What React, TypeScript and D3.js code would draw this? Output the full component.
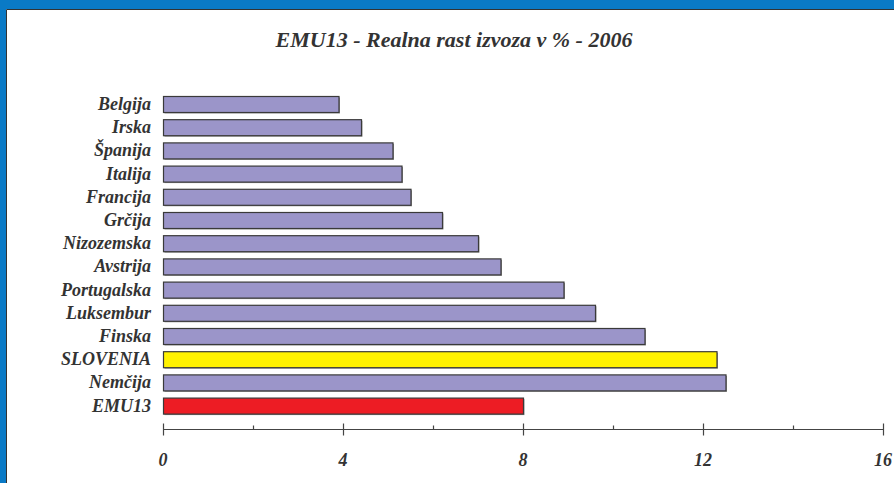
import { useEffect, useRef } from 'react'
import * as d3 from 'd3'

const countries = [
  'Belgija', 'Irska', 'Španija', 'Italija', 'Francija', 'Grčija', 'Nizozemska',
  'Avstrija', 'Portugalska', 'Luksembur', 'Finska', 'SLOVENIA', 'Nemčija', 'EMU13',
]
const growth = [3.9, 4.4, 5.1, 5.3, 5.5, 6.2, 7.0, 7.5, 8.9, 9.6, 10.7, 12.3, 12.5, 8.0]
const majorTicks = [0, 4, 8, 12, 16]
const minorTicks = [2, 6, 10, 14]

const W = 894
const H = 483
const FONT = '"Liberation Serif", "Times New Roman", Times, serif'

function barColor(name: string) {
  if (name === 'SLOVENIA') return '#fff200'
  if (name === 'EMU13') return '#ed1c24'
  return '#9b95c9'
}

export default function App() {
  const svgRef = useRef<SVGSVGElement>(null)

  useEffect(() => {
    if (!svgRef.current) return
    const svg = d3.select(svgRef.current)
    svg.selectAll('*').remove()

    // frame: white page, blue strips on top and left only
    svg.append('rect').attr('width', W).attr('height', H).attr('fill', '#fff')
    svg.append('rect').attr('width', W).attr('height', 9).attr('fill', '#0a7ac6')
    svg.append('rect').attr('width', 6).attr('height', H).attr('fill', '#0a7ac6')
    svg.append('path')
      .attr('d', `M6.5,${H}V9.5H${W}`)
      .attr('fill', 'none').attr('stroke', '#333').attr('stroke-width', 1)

    svg.append('text')
      .attr('x', 454).attr('y', 47)
      .attr('text-anchor', 'middle')
      .attr('font-family', FONT).attr('font-size', 22)
      .attr('font-weight', 'bold').attr('font-style', 'italic')
      .attr('fill', '#333')
      .text('EMU13 - Realna rast izvoza v % - 2006')

    const x = d3.scaleLinear().domain([0, 16]).range([163, 883])
    const y = d3.scaleBand<string>()
      .domain(countries)
      .range([92.4, 417.2])
      .paddingInner(0.31)
      .paddingOuter(0.155)

    const data = countries.map((c, i) => ({ name: c, value: growth[i] }))

    // shadow
    svg.append('g').selectAll('rect').data(data).enter().append('rect')
      .attr('x', x(0) + 1.5)
      .attr('y', d => (y(d.name) ?? 0) + 1.5)
      .attr('width', d => x(d.value) - x(0))
      .attr('height', y.bandwidth())
      .attr('fill', '#9a9a9a')

    svg.append('g').selectAll('rect').data(data).enter().append('rect')
      .attr('x', x(0) + 0.5)
      .attr('y', d => (y(d.name) ?? 0) + 0.5)
      .attr('width', d => x(d.value) - x(0))
      .attr('height', y.bandwidth())
      .attr('fill', d => barColor(d.name))
      .attr('stroke', '#3a3a3a')
      .attr('stroke-width', 1.2)

    svg.append('g').selectAll('text').data(data).enter().append('text')
      .attr('x', 151)
      .attr('y', d => (y(d.name) ?? 0) + y.bandwidth() / 2 + 6)
      .attr('text-anchor', 'end')
      .attr('font-family', FONT).attr('font-size', 18)
      .attr('font-weight', 'bold').attr('font-style', 'italic')
      .attr('fill', '#333')
      .text(d => d.name)

    // axis
    const axisY = 429.5
    const ax = svg.append('g').attr('stroke', '#444').attr('stroke-width', 1.2)
    ax.append('line').attr('x1', x(0)).attr('x2', x(16)).attr('y1', axisY).attr('y2', axisY)
    ax.selectAll('line.major').data(majorTicks).enter().append('line')
      .attr('class', 'major')
      .attr('x1', d => x(d) + 0.5).attr('x2', d => x(d) + 0.5)
      .attr('y1', axisY - 6).attr('y2', axisY + 6)
    ax.selectAll('line.minor').data(minorTicks).enter().append('line')
      .attr('class', 'minor')
      .attr('x1', d => x(d) + 0.5).attr('x2', d => x(d) + 0.5)
      .attr('y1', axisY - 4).attr('y2', axisY)

    svg.append('g').selectAll('text').data(majorTicks).enter().append('text')
      .attr('x', d => x(d))
      .attr('y', 466)
      .attr('text-anchor', 'middle')
      .attr('font-family', FONT).attr('font-size', 18)
      .attr('font-weight', 'bold').attr('font-style', 'italic')
      .attr('fill', '#333')
      .text(d => String(d))
  }, [])

  return (
    <svg
      ref={svgRef}
      width={W}
      height={H}
      style={{ position: 'absolute', left: 0, top: 0, display: 'block' }}
    />
  )
}
